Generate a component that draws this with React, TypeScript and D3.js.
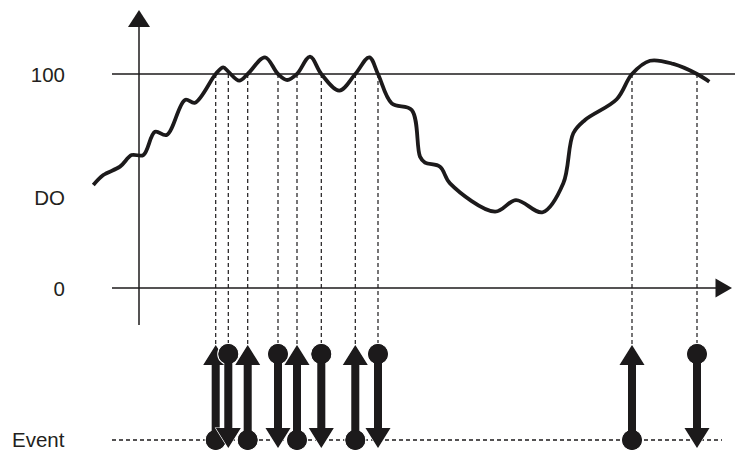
import React from "react";
import * as d3 from "d3";

// Dissolved-oxygen curve: time (arbitrary units) vs DO (%)
const curveTimes = [-45.7, -35.7, -19, -7.3, 4.3, 16, 27.7, 46, 56, 76.7, 84.3, 89.3, 100.3, 108.7, 126, 139, 148.3, 158, 171, 182.3, 200.3, 216.3, 230.3, 239, 252.7, 272.7, 281, 286, 301, 311, 356, 377, 403.7, 424.3, 434.3, 446, 477.7, 493, 511, 534.3, 558, 570.3];
const curveDO = [48.1, 52.8, 56.7, 62.1, 62.1, 73.0, 71.5, 87.9, 86.6, 100, 103.1, 101.1, 96.9, 100, 107.8, 100, 97.2, 100, 108.1, 100, 92.2, 100, 107.8, 100, 86.3, 83.2, 61.4, 58.6, 56.7, 48.9, 35.7, 41.1, 35.4, 48.9, 72.3, 78.5, 88.2, 100, 106.2, 104.7, 100, 96.4];

// Events: times where DO crosses 100 and direction
const eventTimes = [76.7, 89.3, 108.7, 139, 158, 182.3, 216.3, 239, 493, 558];
const eventDirs = ["up", "down", "up", "down", "up", "down", "up", "down", "up", "down"];

const yTickValues = [0, 100];
const yTickLabels = ["0", "100"];
const yAxisTitle = "DO";
const eventLabel = "Event";

export default function App() {
  const W = 735, H = 450;
  const x = d3.scaleLinear().domain([0, 600]).range([139, 739]);
  const y = d3.scaleLinear().domain([0, 100]).range([288, 74]);
  const ink = "#1c1a1b";
  const font = "'Liberation Sans', Arial, sans-serif";
  const fs = 20.5;

  const pts = curveTimes.map((t, i) => [x(t), y(curveDO[i])] as [number, number]);
  const line = d3.line().curve(d3.curveCatmullRom.alpha(0.5))(pts) || "";

  const yBase = 440;     // event baseline
  const yTopMark = 354;  // top circle centre
  const triH = 20, triW = 25, shaftW = 8, r = 10.5;

  const marker = (t: number, dir: string, i: number) => {
    const cx = x(t);
    let d: string;
    let circleY: number;
    if (dir === "up") {
      const tip = 345;
      circleY = yBase;
      d = `M${cx},${tip} L${cx + triW / 2},${tip + triH} L${cx + shaftW / 2},${tip + triH} L${cx + shaftW / 2},${circleY} L${cx - shaftW / 2},${circleY} L${cx - shaftW / 2},${tip + triH} L${cx - triW / 2},${tip + triH} Z`;
    } else {
      const tip = 448;
      circleY = yTopMark;
      d = `M${cx},${tip} L${cx + triW / 2},${tip - triH} L${cx + shaftW / 2},${tip - triH} L${cx + shaftW / 2},${circleY} L${cx - shaftW / 2},${circleY} L${cx - shaftW / 2},${tip - triH} L${cx - triW / 2},${tip - triH} Z`;
    }
    return (
      <g key={i}>
        <path d={d} fill={ink} stroke="#fff" strokeWidth={1.2} strokeLinejoin="miter" />
        <circle cx={cx} cy={circleY} r={r} fill={ink} stroke="#fff" strokeWidth={1.2} />
        <path d={d} fill={ink} />
        <circle cx={cx} cy={circleY} r={r - 0.6} fill={ink} />
      </g>
    );
  };

  return (
    <svg width={W} height={H} style={{ position: "absolute", left: 0, top: 0, background: "#fff" }}>
      <rect x={0} y={0} width={W} height={H} fill="#fff" />
      {/* dashed guide lines */}
      {eventTimes.map((t, i) => (
        <line key={"g" + i} x1={x(t)} x2={x(t)} y1={y(100)} y2={344} stroke={ink} strokeWidth={1.2} strokeDasharray="4,3" />
      ))}
      {/* 100 reference line */}
      <line x1={112} x2={735} y1={y(100)} y2={y(100)} stroke={ink} strokeWidth={1.5} />
      {/* x axis (0) */}
      <line x1={112} x2={718} y1={y(0)} y2={y(0)} stroke={ink} strokeWidth={1.5} />
      <path d={`M${732},${y(0)} L${715.5},${y(0) - 9.5} L${715.5},${y(0) + 9.5} Z`} fill={ink} />
      {/* y axis */}
      <line x1={139} x2={139} y1={325} y2={24} stroke={ink} strokeWidth={1.5} />
      <path d={`M139,10 L150,27 L128,27 Z`} fill={ink} />
      {/* tick labels */}
      {yTickValues.map((v, i) => (
        <text key={"t" + i} x={65} y={y(v)} textAnchor="end" dominantBaseline="central" fontFamily={font} fontSize={fs} fill="#231f20">{yTickLabels[i]}</text>
      ))}
      <text x={65} y={197.5} textAnchor="end" dominantBaseline="central" fontFamily={font} fontSize={fs} fill="#231f20">{yAxisTitle}</text>
      {/* curve */}
      <path d={line} fill="none" stroke={ink} strokeWidth={3.8} strokeLinejoin="round" />
      {/* event baseline */}
      <line x1={112} x2={722} y1={yBase} y2={yBase} stroke={ink} strokeWidth={1.3} strokeDasharray="4,3" />
      <text x={12} y={439} dominantBaseline="central" fontFamily={font} fontSize={fs} fill="#231f20">{eventLabel}</text>
      {eventTimes.map((t, i) => marker(t, eventDirs[i], i))}
    </svg>
  );
}
